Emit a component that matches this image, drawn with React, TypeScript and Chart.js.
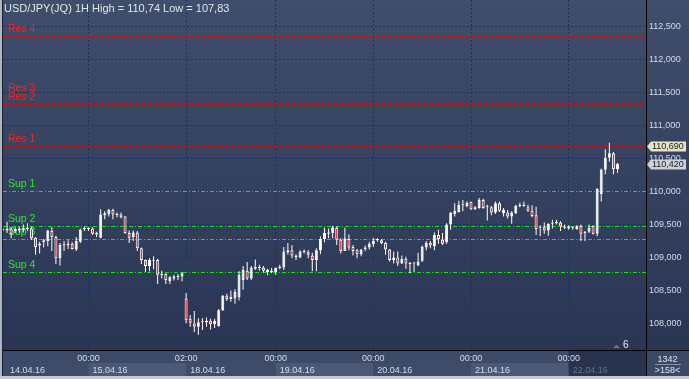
import React, { useEffect, useRef } from 'react';
import { Chart, registerables } from 'chart.js';

Chart.register(...registerables);

const TITLE = 'USD/JPY(JQ) 1H High = 110,74 Low = 107,83';

const opens = [
  109.42, 109.41, 109.44, 109.40, 109.41, 109.42, 109.43, 109.44, 109.30, 109.18,
  109.23, 109.25, 109.40, 109.31, 108.99, 109.18, 109.19, 109.21, 109.12, 109.24,
  109.43, 109.43, 109.44, 109.35, 109.30, 109.64, 109.65, 109.72, 109.64, 109.65,
  109.62, 109.37, 109.31, 109.38, 109.14, 108.96, 108.87, 108.95, 108.96, 108.73,
  108.75, 108.64, 108.68, 108.70, 108.71, 108.38, 108.07, 108.00, 107.95, 108.02,
  108.02, 108.04, 107.99, 107.96, 108.20, 108.42, 108.37, 108.38, 108.40, 108.66,
  108.80, 108.68, 108.83, 108.84, 108.85, 108.81, 108.78, 108.78, 108.84, 108.85,
  109.08, 109.11, 109.03, 109.00, 109.08, 109.08, 109.03, 108.96, 109.11, 109.28,
  109.36, 109.37, 109.45, 109.27, 109.10, 109.28, 109.16, 109.11, 109.05, 109.13,
  109.15, 109.20, 109.26, 109.26, 109.22, 109.12, 108.96, 109.00, 108.91, 108.98,
  108.90, 108.91, 108.88, 108.95, 109.15, 109.22, 109.17, 109.34, 109.27, 109.23,
  109.50, 109.66, 109.69, 109.79, 109.78, 109.84, 109.73, 109.75, 109.87, 109.77,
  109.76, 109.68, 109.82, 109.67, 109.68, 109.62, 109.67, 109.78, 109.78, 109.76,
  109.71, 109.64, 109.45, 109.46, 109.41, 109.51, 109.52, 109.53, 109.45, 109.44,
  109.45, 109.43, 109.48, 109.37, 109.39, 109.48, 109.36, 109.96, 110.33, 110.51,
  110.58, 110.34,
];
const highs = [
  109.44, 109.54, 109.46, 109.46, 109.47, 109.50, 109.52, 109.47, 109.31, 109.24,
  109.28, 109.42, 109.46, 109.33, 109.22, 109.25, 109.26, 109.23, 109.31, 109.44,
  109.47, 109.46, 109.46, 109.39, 109.73, 109.70, 109.74, 109.74, 109.68, 109.68,
  109.63, 109.41, 109.41, 109.40, 109.15, 108.97, 108.99, 109.02, 108.98, 108.80,
  108.76, 108.72, 108.74, 108.75, 108.78, 108.46, 108.13, 108.19, 108.08, 108.08,
  108.09, 108.07, 108.07, 108.22, 108.43, 108.45, 108.50, 108.52, 108.79, 108.87,
  108.93, 108.87, 108.97, 108.89, 108.87, 108.83, 108.84, 108.85, 108.89, 109.16,
  109.22, 109.19, 109.05, 109.11, 109.12, 109.11, 109.07, 109.14, 109.32, 109.45,
  109.44, 109.48, 109.47, 109.29, 109.45, 109.35, 109.19, 109.13, 109.13, 109.18,
  109.24, 109.30, 109.29, 109.28, 109.24, 109.13, 109.09, 109.09, 109.03, 109.01,
  108.93, 108.93, 109.07, 109.18, 109.25, 109.25, 109.38, 109.42, 109.37, 109.52,
  109.69, 109.82, 109.86, 109.87, 109.85, 109.85, 109.78, 109.90, 109.89, 109.80,
  109.78, 109.85, 109.85, 109.75, 109.72, 109.70, 109.80, 109.83, 109.85, 109.80,
  109.79, 109.77, 109.49, 109.53, 109.52, 109.57, 109.57, 109.55, 109.50, 109.49,
  109.47, 109.49, 109.50, 109.40, 109.50, 109.49, 110.05, 110.35, 110.64, 110.74,
  110.60, 110.43,
];
const lows = [
  109.40, 109.37, 109.29, 109.37, 109.38, 109.38, 109.40, 109.27, 109.04, 109.06,
  109.15, 109.17, 109.10, 108.90, 108.88, 109.10, 109.13, 109.12, 109.10, 109.22,
  109.40, 109.40, 109.34, 109.31, 109.29, 109.58, 109.62, 109.58, 109.61, 109.59,
  109.36, 109.22, 109.25, 109.10, 108.90, 108.78, 108.79, 108.82, 108.60, 108.68,
  108.60, 108.60, 108.65, 108.66, 108.64, 108.00, 107.95, 107.87, 107.83, 107.90,
  107.95, 107.91, 107.93, 107.95, 108.19, 108.34, 108.33, 108.30, 108.35, 108.51,
  108.66, 108.66, 108.81, 108.80, 108.77, 108.73, 108.76, 108.74, 108.82, 108.81,
  109.04, 108.99, 108.96, 108.99, 109.06, 108.99, 108.79, 108.79, 109.05, 109.23,
  109.29, 109.29, 109.19, 109.06, 109.10, 109.11, 109.03, 108.99, 109.02, 109.10,
  109.12, 109.16, 109.24, 109.20, 109.04, 108.94, 108.91, 108.87, 108.90, 108.83,
  108.76, 108.78, 108.87, 108.93, 109.11, 109.14, 109.11, 109.21, 109.19, 109.21,
  109.42, 109.62, 109.68, 109.70, 109.76, 109.72, 109.72, 109.74, 109.74, 109.56,
  109.64, 109.66, 109.69, 109.62, 109.59, 109.51, 109.66, 109.76, 109.77, 109.69,
  109.61, 109.34, 109.32, 109.36, 109.33, 109.44, 109.50, 109.40, 109.43, 109.42,
  109.42, 109.42, 109.25, 109.25, 109.37, 109.35, 109.32, 109.85, 110.26, 110.45,
  110.26, 110.28,
];
const closes = [
  109.43, 109.43, 109.36, 109.43, 109.44, 109.45, 109.45, 109.29, 109.16, 109.21,
  109.26, 109.41, 109.31, 108.99, 109.19, 109.20, 109.21, 109.13, 109.25, 109.42,
  109.45, 109.44, 109.36, 109.37, 109.65, 109.67, 109.72, 109.65, 109.66, 109.61,
  109.37, 109.30, 109.38, 109.14, 108.96, 108.87, 108.96, 108.96, 108.74, 108.75,
  108.66, 108.70, 108.71, 108.72, 108.76, 108.05, 108.01, 107.95, 108.02, 108.03,
  108.04, 107.99, 108.04, 108.20, 108.42, 108.37, 108.40, 108.48, 108.74, 108.81,
  108.68, 108.85, 108.86, 108.86, 108.80, 108.78, 108.80, 108.84, 108.86, 109.09,
  109.11, 109.03, 109.00, 109.09, 109.10, 109.04, 108.96, 109.11, 109.28, 109.37,
  109.38, 109.46, 109.27, 109.10, 109.29, 109.15, 109.10, 109.05, 109.12, 109.15,
  109.21, 109.25, 109.28, 109.22, 109.12, 108.96, 109.00, 108.91, 108.98, 108.91,
  108.92, 108.92, 108.94, 109.16, 109.22, 109.18, 109.34, 109.28, 109.21, 109.50,
  109.68, 109.71, 109.80, 109.80, 109.83, 109.73, 109.76, 109.87, 109.75, 109.77,
  109.68, 109.82, 109.71, 109.72, 109.62, 109.68, 109.78, 109.80, 109.80, 109.71,
  109.63, 109.43, 109.47, 109.41, 109.51, 109.52, 109.54, 109.47, 109.47, 109.47,
  109.46, 109.48, 109.36, 109.39, 109.45, 109.36, 110.04, 110.33, 110.51, 110.58,
  110.34, 110.42,
];

const SLOT_COUNT = 158;
const Y_MIN = 107.598;
const Y_MAX = 112.902;
const priceTicks = [108, 108.5, 109, 109.5, 110, 110.5, 111, 111.5, 112, 112.5];

const dayStartIdx = [21, 45, 67, 91, 115, 139];
const dayStartTimes = ['00:00', '02:00', '00:00', '00:00', '00:00', '00:00'];
const dayDates = ['14.04.16', '15.04.16', '18.04.16', '19.04.16', '20.04.16', '21.04.16', '22.04.16'];

const resNames = ['Res 4', 'Res 3', 'Res 2', 'Res 1'];
const resValues = [112.36, 111.46, 111.32, 110.69];
const supNames = ['Sup 1', 'Sup 2', 'Sup 3', 'Sup 4'];
const supValues = [110.0, 109.47, 109.28, 108.78];

const tagValues = [110.69, 110.42];
const BARS_TOTAL = '1342';
const BARS_VISIBLE = '>158<';
const SHIFT_BARS = '6';

const SANS = "'Liberation Sans', Arial, sans-serif";
const AXIS_TEXT = '#d3dbea';
const GRID = '#173465';

const fmt3 = (v: number) => v.toFixed(3).replace('.', ',');

const chromePlugin = {
  id: 'chrome',
  beforeDraw(chart: any) {
    const { ctx, chartArea: a, width, height } = chart;
    const xs = chart.scales.x;
    ctx.save();
    ctx.fillStyle = '#3a4864';
    ctx.fillRect(0, 0, width, height);
    const g = ctx.createLinearGradient(0, 0, 0, a.bottom);
    g.addColorStop(0, '#3f4e6b');
    g.addColorStop(1, '#2a3554');
    ctx.fillStyle = g;
    ctx.fillRect(a.left, 0, width - a.left, a.bottom);

    const axTop = a.bottom;
    const rowSplit = a.bottom + 13;
    const axBot = height - 3;
    ctx.fillStyle = '#3d4b68';
    ctx.fillRect(a.left, axTop, a.right - a.left, axBot - axTop);
    const starts = [a.left, ...dayStartIdx.map((i) => xs.getPixelForValue(i))];
    for (let k = 0; k < starts.length; k++) {
      const x0 = starts[k];
      const x1 = k + 1 < starts.length ? starts[k + 1] : a.right;
      if (k === starts.length - 1) {
        ctx.fillStyle = '#29334e';
        ctx.fillRect(x0, axTop, x1 - x0, axBot - axTop);
      } else {
        ctx.fillStyle = k % 2 ? '#4b5977' : '#3e4c69';
        ctx.fillRect(x0, rowSplit, x1 - x0, axBot - rowSplit);
      }
    }
    ctx.strokeStyle = GRID;
    ctx.setLineDash([2, 2]);
    ctx.lineWidth = 1;
    dayStartIdx.forEach((i) => {
      const x = Math.round(xs.getPixelForValue(i)) + 0.5;
      ctx.beginPath();
      ctx.moveTo(x, axTop);
      ctx.lineTo(x, rowSplit);
      ctx.stroke();
    });
    ctx.setLineDash([]);
    ctx.fillStyle = '#3b4966';
    ctx.fillRect(a.right, axTop, width - a.right, axBot - axTop);
    ctx.fillStyle = '#aeb6c4';
    ctx.fillRect(0, 0, 2, height);
    ctx.fillStyle = '#1e2438';
    ctx.fillRect(2, 0, 1, height - 3);
    ctx.fillStyle = '#c5cbd5';
    ctx.fillRect(0, height - 3, width, 3);
    ctx.restore();
  },
  beforeDatasetsDraw(chart: any) {
    const { ctx, chartArea: a } = chart;
    const ys = chart.scales.y;
    ctx.save();
    ctx.beginPath();
    ctx.rect(a.left, a.top, a.right - a.left, a.bottom - a.top);
    ctx.clip();
    ctx.lineWidth = 1;
    ctx.font = `10.5px ${SANS}`;
    ctx.textAlign = 'left';
    ctx.textBaseline = 'alphabetic';
    const drawLevel = (name: string, v: number, line: string, text: string, dash: number[]) => {
      const y = Math.round(ys.getPixelForValue(v)) + 0.5;
      ctx.strokeStyle = line;
      ctx.setLineDash(dash);
      ctx.beginPath();
      ctx.moveTo(a.left, y);
      ctx.lineTo(a.right, y);
      ctx.stroke();
      ctx.fillStyle = text;
      ctx.fillText(name, 8, y - 4.5);
    };
    resNames.forEach((n, k) => drawLevel(n, resValues[k], '#dd0a0a', '#ff2020', [4, 2]));
    supNames.forEach((n, k) => drawLevel(n, supValues[k], '#0ae60a', '#22f022', [4, 2, 1, 2]));
    ctx.restore();
  },
  afterDraw(chart: any) {
    const { ctx, chartArea: a, width, height } = chart;
    const xs = chart.scales.x;
    const ys = chart.scales.y;
    ctx.save();
    ctx.fillStyle = '#000000';
    ctx.fillRect(a.left, a.bottom, width - a.left, 1);
    ctx.fillRect(a.right, 0, 1, height - 3);

    ctx.font = `9px ${SANS}`;
    ctx.textAlign = 'left';
    ctx.textBaseline = 'alphabetic';
    dayDates.forEach((d, k) => {
      const x = k === 0 ? a.left + 7 : xs.getPixelForValue(dayStartIdx[k - 1]) + 4;
      ctx.fillStyle = k === dayDates.length - 1 ? '#66728c' : '#d6dcea';
      ctx.fillText(d, x, height - 6);
    });

    const cx = (a.right + width) / 2;
    ctx.textAlign = 'center';
    ctx.fillStyle = '#dce2ec';
    ctx.fillText(BARS_TOTAL, cx, a.bottom + 11.5);
    ctx.fillText(BARS_VISIBLE, cx, height - 6);
    ctx.fillStyle = '#8b95a8';
    ctx.fillRect(a.right + 9, a.bottom + 14, 26, 1);

    ctx.fillStyle = '#6f7a92';
    ctx.beginPath();
    ctx.moveTo(a.right - 33, a.bottom - 2);
    ctx.lineTo(a.right - 26, a.bottom - 2);
    ctx.lineTo(a.right - 29.5, a.bottom - 5);
    ctx.closePath();
    ctx.fill();
    ctx.font = `10px ${SANS}`;
    ctx.fillStyle = '#e8ecf2';
    ctx.textAlign = 'left';
    ctx.fillText(SHIFT_BARS, a.right - 23, a.bottom - 2);

    ctx.font = `9px ${SANS}`;
    tagValues.forEach((v, k) => {
      const y = Math.round(ys.getPixelForValue(v)) + 0.5;
      const x0 = a.right + 1;
      const h = 10;
      ctx.beginPath();
      ctx.moveTo(x0, y);
      ctx.lineTo(x0 + 4, y - h / 2);
      ctx.lineTo(width - 3, y - h / 2);
      ctx.lineTo(width - 3, y + h / 2);
      ctx.lineTo(x0 + 4, y + h / 2);
      ctx.closePath();
      ctx.fillStyle = k === 0 ? '#e6e4c4' : '#cdd1d8';
      ctx.fill();
      ctx.fillStyle = '#1a1a1a';
      ctx.textBaseline = 'middle';
      ctx.fillText(fmt3(v), x0 + 5, y + 0.5);
    });

    ctx.font = `11px ${SANS}`;
    ctx.textBaseline = 'alphabetic';
    ctx.fillStyle = '#e1e6ee';
    ctx.fillText(TITLE, 4, 12);
    ctx.restore();
  },
};

export default function App() {
  const ref = useRef<HTMLCanvasElement>(null);
  useEffect(() => {
    document.body.style.margin = '0';
    const wickData = opens.map((_, i) => ({ x: i, y: [lows[i], highs[i]] }));
    const bodyData = opens.map((o, i) => ({ x: i, y: [o, closes[i]] }));
    const bodyColors = opens.map((o, i) => (closes[i] >= o ? '#ffffff' : '#ff0a14'));
    const chart = new Chart(ref.current as HTMLCanvasElement, {
      type: 'bar',
      data: {
        datasets: [
          {
            data: wickData as any,
            backgroundColor: '#ffffff',
            barThickness: 1,
            grouped: false,
            order: 2,
            inflateAmount: 0,
          } as any,
          {
            data: bodyData as any,
            backgroundColor: bodyColors,
            borderColor: '#ffffff',
            borderWidth: 1,
            borderSkipped: false,
            barThickness: 3,
            minBarLength: 1,
            grouped: false,
            order: 1,
            inflateAmount: 0,
          } as any,
        ],
      },
      options: {
        responsive: false,
        maintainAspectRatio: false,
        animation: false,
        layout: { padding: { left: 3, top: 0, right: 0, bottom: 0 } },
        plugins: { legend: { display: false }, tooltip: { enabled: false } },
        scales: {
          x: {
            type: 'linear',
            min: 0,
            max: SLOT_COUNT,
            offset: false,
            afterBuildTicks: (s: any) => {
              s.ticks = dayStartIdx.map((v) => ({ value: v }));
            },
            afterFit: (s: any) => {
              s.height = 29;
              s.paddingLeft = 0;
              s.paddingRight = 0;
            },
            grid: { color: GRID, drawTicks: false, offset: false, lineWidth: 1 },
            border: { display: false, dash: [2, 2] },
            ticks: {
              autoSkip: false,
              maxRotation: 0,
              padding: 3,
              color: AXIS_TEXT,
              font: { family: SANS, size: 9 },
              callback: (_v: any, idx: number) => dayStartTimes[idx],
            },
          } as any,
          y: {
            type: 'linear',
            position: 'right',
            min: Y_MIN,
            max: Y_MAX,
            afterBuildTicks: (s: any) => {
              s.ticks = priceTicks.map((v) => ({ value: v }));
            },
            afterFit: (s: any) => {
              s.width = 43;
              s.paddingTop = 0;
              s.paddingBottom = 0;
            },
            grid: { color: GRID, drawTicks: false, lineWidth: 1 },
            border: { display: false, dash: [2, 2] },
            ticks: {
              padding: 3,
              color: AXIS_TEXT,
              font: { family: SANS, size: 9 },
              callback: (v: any) => fmt3(Number(v)),
            },
          } as any,
        },
      },
      plugins: [chromePlugin],
    });
    return () => chart.destroy();
  }, []);
  return (
    <div style={{ width: 689, height: 379 }}>
      <canvas ref={ref} width={689} height={379} style={{ display: 'block', width: 689, height: 379 }} />
    </div>
  );
}
